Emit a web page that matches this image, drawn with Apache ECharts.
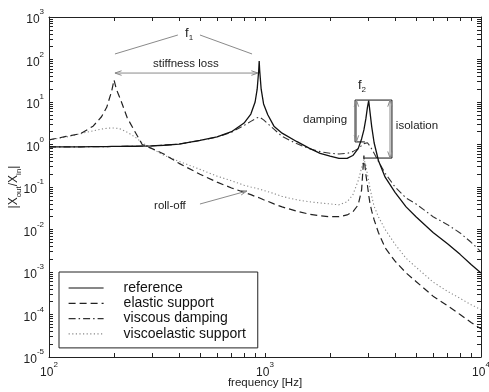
<!DOCTYPE html>
<html>
<head>
<meta charset="utf-8">
<script src="https://cdn.jsdelivr.net/npm/echarts@6/dist/echarts.min.js"></script>
<style>
  html, body { margin: 0; padding: 0; background: #fff; }
  #chart { width: 489px; height: 392px; }
</style>
</head>
<body>
<div id="chart"></div>
<script>
// frequency grid [Hz] shared by all curves
const freq = [100, 120, 140, 160, 175, 185, 195, 200, 205, 215,
  230, 250, 270, 300, 340, 400, 500, 600, 700, 800,
  860, 900, 920, 935, 940, 945, 960, 985, 1030, 1100,
  1200, 1400, 1600, 1800, 2000, 2200, 2400, 2550, 2700, 2800,
  2870, 2930, 2980, 3020, 3060, 3120, 3200, 3350, 3600, 4000,
  4500, 5000, 6000, 7000, 8000, 9000, 10000];

// |Xout/Xin|
const reference = [0.88, 0.88, 0.88, 0.89, 0.89, 0.89, 0.9, 0.9, 0.9, 0.9,
  0.91, 0.91, 0.92, 0.93, 0.96, 1.02, 1.25, 1.52, 2.0, 3.2,
  5.2, 10, 20, 55, 92, 55, 20, 9, 5, 2.7,
  1.85, 1.18, 0.82, 0.62, 0.53, 0.47, 0.47, 0.55, 0.8, 1.35,
  2.2, 4, 7.5, 10.8, 6, 2.6, 1.1, 0.42, 0.17, 0.075,
  0.034, 0.02, 0.0085, 0.0046, 0.0026, 0.0015, 0.00095];

const elasticSupport = [1.28, 1.55, 1.8, 2.7, 4.5, 7.5, 18, 33, 20, 11,
  4.3, 2.0, 1.0, 0.8, 0.6, 0.36, 0.2, 0.13, 0.095, 0.075,
  0.066, 0.06, 0.058, 0.056, 0.055, 0.055, 0.053, 0.05, 0.046, 0.04,
  0.034, 0.027, 0.023, 0.021, 0.02, 0.02, 0.022, 0.026, 0.038, 0.085,
  0.55, 0.2, 0.11, 0.065, 0.042, 0.027, 0.017, 0.0085, 0.0037, 0.0018,
  0.00095, 0.0006, 0.00027, 0.00016, 0.0001, 0.000065, 0.000046];

const viscousDamping = [0.88, 0.88, 0.88, 0.89, 0.89, 0.89, 0.9, 0.9, 0.9, 0.9,
  0.91, 0.91, 0.92, 0.93, 0.96, 1.02, 1.24, 1.5, 1.95, 2.8,
  3.5, 4.0, 4.25, 4.4, 4.45, 4.4, 4.2, 3.8, 3.1, 2.3,
  1.55, 1.05, 0.8, 0.68, 0.62, 0.6, 0.62, 0.68, 0.8, 0.95,
  1.05, 1.12, 1.1, 1.02, 0.92, 0.78, 0.62, 0.4, 0.21, 0.1,
  0.055, 0.04, 0.02, 0.013, 0.0083, 0.005, 0.003];

const viscoelasticSupport = [1.28, 1.5, 1.8, 2.1, 2.3, 2.4, 2.45, 2.45, 2.42, 2.3,
  1.95, 1.5, 1.1, 0.8, 0.56, 0.4, 0.26, 0.18, 0.14, 0.11,
  0.1, 0.095, 0.092, 0.09, 0.09, 0.089, 0.087, 0.083, 0.078, 0.07,
  0.06, 0.05, 0.045, 0.042, 0.04, 0.038, 0.045, 0.065, 0.14, 0.28,
  0.45, 0.32, 0.2, 0.14, 0.095, 0.06, 0.035, 0.02, 0.01, 0.0045,
  0.0021, 0.0013, 0.00058, 0.00035, 0.00024, 0.00017, 0.00013];

const seriesNames = ['reference', 'elastic support', 'viscous damping', 'viscoelastic support'];
const xDecades = [100, 1000, 10000];
const yDecades = [1e-5, 1e-4, 1e-3, 1e-2, 1e-1, 1, 10, 100, 1000];

function minorValues(decades) {
  const out = [];
  decades.forEach((d, i) => {
    if (i === decades.length - 1) { out.push(d); return; }
    for (let m = 1; m < 10; m++) out.push(m * d);
  });
  return out;
}

const powLabel = (v) => '{b|10}{s|' + Math.round(Math.log10(v)) + '}';
const labelRich = {
  b: { fontSize: 12, color: '#222', fontFamily: 'Liberation Sans', lineHeight: 18, verticalAlign: 'bottom' },
  s: { fontSize: 8, color: '#222', fontFamily: 'Liberation Sans', lineHeight: 18, verticalAlign: 'top' }
};

function logAxis(min, max, decades, position, labels) {
  return {
    type: 'log', logBase: 10, min: min, max: max, interval: 1, position: position,
    axisLine: { show: true, lineStyle: { color: '#222', width: 1 } },
    axisTick: { show: true, inside: true, length: 4, customValues: minorValues(decades),
      lineStyle: { color: '#222', width: 1 } },
    axisLabel: labels
      ? { show: true, customValues: decades, formatter: powLabel, rich: labelRich,
          margin: position === 'bottom' ? 4 : 5 }
      : { show: false },
    splitLine: { show: false },
    minorTick: { show: false }
  };
}

const styles = [
  { color: '#111', width: 1.3, type: 'solid' },
  { color: '#222', width: 1.2, type: [7, 4] },
  { color: '#333', width: 1.1, type: [7, 3, 1.5, 3] },
  { color: '#888', width: 1.1, type: [1.2, 2.4] }
];
const curves = [reference, elasticSupport, viscousDamping, viscoelasticSupport];

const chart = echarts.init(document.getElementById('chart'), null, { renderer: 'canvas' });

const xBottom = logAxis(100, 10000, xDecades, 'bottom', true);
xBottom.name = 'frequency [Hz]';
xBottom.nameLocation = 'middle';
xBottom.nameGap = 20;
xBottom.nameMoveOverlap = false;
xBottom.nameTextStyle = { fontSize: 11.5, color: '#222', fontFamily: 'Liberation Sans' };

const yLeft = logAxis(1e-5, 1000, yDecades, 'left', true);
yLeft.name = '|X{sub|out}/X{sub|in}|';
yLeft.nameLocation = 'middle';
yLeft.nameGap = 35;
yLeft.nameRotate = 90;
yLeft.nameMoveOverlap = false;
yLeft.nameTextStyle = {
  fontSize: 12, color: '#222', fontFamily: 'Liberation Sans', lineHeight: 18, verticalAlign: 'middle',
  rich: { sub: { fontSize: 8, color: '#222', fontFamily: 'Liberation Sans', lineHeight: 18, verticalAlign: 'bottom' } }
};

chart.setOption({
  animation: false,
  backgroundColor: '#fff',
  textStyle: { fontFamily: 'Liberation Sans' },
  grid: { left: 49, right: 8, top: 17, bottom: 35, containLabel: false, outerBoundsMode: 'none' },
  xAxis: [xBottom, logAxis(100, 10000, xDecades, 'top', false)],
  yAxis: [yLeft, logAxis(1e-5, 1000, yDecades, 'right', false)],
  legend: {
    orient: 'vertical', left: 59, top: 272,
    itemWidth: 35, itemHeight: 14, itemGap: 1.3,
    padding: [9, 12, 7, 9],
    borderColor: '#222', borderWidth: 1, borderRadius: 0, backgroundColor: '#fff',
    textStyle: { fontSize: 14, color: '#111', fontFamily: 'Liberation Sans', padding: [0, 0, 0, 15] },
    itemStyle: { opacity: 0 },
    lineStyle: { width: 1.2 },
    selectedMode: false,
    data: seriesNames
  },
  series: seriesNames.map((name, i) => ({
    name: name,
    type: 'line',
    xAxisIndex: 0, yAxisIndex: 0,
    data: freq.map((f, k) => [f, curves[i][k]]),
    showSymbol: false, symbol: 'none', smooth: false, silent: true,
    lineStyle: { color: styles[i].color, width: styles[i].width, type: styles[i].type },
    itemStyle: { color: styles[i].color },
    z: 4 - i
  }))
});

// annotations, anchored in data space
const px = (p) => chart.convertToPixel({ gridIndex: 0 }, p);
const gray = '#8a8a8a';

function seg(a, b, color) {
  const p = px(a), q = px(b);
  return { type: 'line', shape: { x1: p[0], y1: p[1], x2: q[0], y2: q[1] },
    style: { stroke: color, lineWidth: 1 }, z: 10 };
}
function head(tip, from, color) {
  const t = px(tip), f = px(from);
  const ang = Math.atan2(f[1] - t[1], f[0] - t[0]);
  const L = 7, a = 0.33;
  return { type: 'polyline', shape: { points: [
    [t[0] + L * Math.cos(ang + a), t[1] + L * Math.sin(ang + a)], t,
    [t[0] + L * Math.cos(ang - a), t[1] + L * Math.sin(ang - a)]] },
    style: { stroke: color, fill: null, lineWidth: 1 }, z: 10 };
}
function label(at, text, size, rich) {
  const p = px(at);
  return { type: 'text', x: p[0], y: p[1], z: 11,
    style: { text: text, fontSize: size, fill: '#222', fontFamily: 'Liberation Sans',
      align: 'center', verticalAlign: 'middle', rich: rich } };
}
const subRich = {
  m: { fontSize: 13, fill: '#222', fontFamily: 'Liberation Sans', lineHeight: 18, verticalAlign: 'middle' },
  i: { fontSize: 8, fill: '#222', fontFamily: 'Liberation Sans', lineHeight: 18, verticalAlign: 'bottom' }
};

const els = [
  label([445, 420], '{m|f}{i|1}', 13, subRich),
  seg([202, 135], [395, 377], gray),
  seg([500, 377], [871, 135], gray),
  label([430, 78], 'stiffness loss', 11.5),
  seg([202, 48], [928, 48], gray),
  head([202, 48], [928, 48], gray),
  head([928, 48], [202, 48], gray),
  label([2812, 25], '{m|f}{i|2}', 13, subRich),
  // damping / isolation brackets
  seg([2612, 11.1], [3870, 11.1], '#111'),
  seg([2612, 11.1], [2612, 1.15], '#111'),
  seg([2612, 1.15], [2900, 1.15], '#111'),
  seg([3870, 11.1], [3870, 0.48], '#111'),
  seg([2900, 0.48], [3870, 0.48], '#111'),
  seg([2650, 11.1], [2650, 1.15], gray),
  head([2650, 11.1], [2650, 1.15], gray),
  head([2650, 1.15], [2650, 11.1], gray),
  seg([3791, 11.1], [3791, 0.48], gray),
  head([3791, 11.1], [3791, 0.48], gray),
  head([3791, 0.48], [3791, 11.1], gray),
  label([1897, 3.77], 'damping', 11.5),
  label([5053, 2.72], 'isolation', 11.5),
  label([363, 0.0357], 'roll-off', 11.5),
  seg([500, 0.0398], [825, 0.0805], gray),
  head([825, 0.0805], [500, 0.0398], gray)
];
chart.setOption({ graphic: { elements: els } });
</script>
</body>
</html>
